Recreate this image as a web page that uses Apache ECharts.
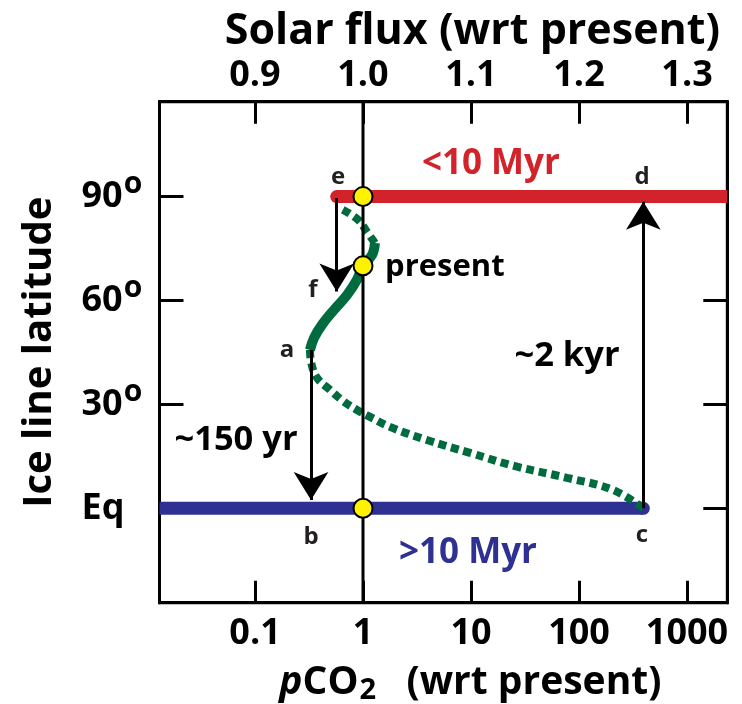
<!DOCTYPE html>
<html>
<head>
<meta charset="utf-8">
<script src="https://cdn.jsdelivr.net/npm/echarts@6/dist/echarts.min.js"></script>
<style>
  html, body { margin: 0; padding: 0; background: #fff; }
  #chart { width: 742px; height: 704px; }
</style>
</head>
<body>
<div id="chart"></div>
<script>
// ---- Snowball-Earth hysteresis: ice line latitude vs pCO2 / solar flux ----

// Axis ranges (pCO2 on a log scale, solar flux linear on the top axis)
const pco2Range = [0.01305, 2361];
const fluxRange = [0.8116, 1.3373];
const latRange = [-27.26, 117.4];

// Tick label text
const latTickValues = [0, 30, 60, 90];
const latTickText = ['Eq', '30', '60', '90'];

// Stable ice-free / small-cap branch (red) and snowball branch (blue)
const iceFreeBranchPCO2 = [0.571, 2361];
const iceFreeBranchLat = [90, 90];
const snowballBranchPCO2 = [0.01305, 394];
const snowballBranchLat = [0, 0];

// Green ice-line curve: upper dashed piece, solid stable piece, lower dashed piece
const upperBranchPCO2 = [0.65, 0.90, 1.09, 1.29];
const upperBranchLat = [86.2, 83.3, 79.8, 76.6];
const stableBranchPCO2 = [1.29, 1.21, 1.0, 0.880, 0.711, 0.539, 0.417, 0.352, 0.323];
const stableBranchLat = [76.6, 73.1, 70.2, 66.0, 61.6, 57.3, 53.0, 49.2, 45.7];
const unstableBranchPCO2 = [0.323, 0.330, 0.375, 0.495, 0.653, 0.880, 1.21, 1.78, 3.91, 9.79, 26.7, 77.4, 206, 394];
const unstableBranchLat = [45.7, 42.3, 37.7, 34.2, 31.0, 28.4, 26.1, 23.5, 19.7, 16.0, 12.0, 8.8, 5.3, 0];

// Marked states on the present-day CO2 line
const markedPCO2 = [1, 1, 1];
const markedLat = [90, 70, 0];

// Transitions: e -> f, a -> b, c -> d
const transitionPCO2 = [0.571, 0.330, 394];
const transitionFromLat = [89.6, 45.7, 0];
const transitionToLat = [62.6, 2.4, 88.5];

// Point letters, anchored in data units
const letterText = ['e', 'd', 'f', 'a', 'b', 'c'];
const letterPCO2 = [0.587, 383, 0.344, 0.198, 0.330, 383];
const letterLat = [95.7, 95.7, 63.0, 45.7, -8.3, -7.8];

const FONT = '"Open Sans", "Noto Sans", sans-serif';
const RED = '#d2232a';
const BLUE = '#2e3192';
const GREEN = '#006b3f';
const INK = '#231f20';

const zip = (xs, ys) => xs.map((x, i) => [x, ys[i]]);

// A branch drawn with a butt cap, rounded only at one end by a dot of the line's width
function cappedBranch(xs, ys, roundIndex, color) {
  return zip(xs, ys).map((p, i) => i === roundIndex
    ? { value: p, symbol: 'circle', symbolSize: 13, itemStyle: { color: color, borderWidth: 0, opacity: 1 } }
    : { value: p, symbol: 'none' });
}

const chart = echarts.init(document.getElementById('chart'), null, { renderer: 'canvas' });

const axisLineStyle = { color: '#000', width: 3 };
const tickLabelStyle = { fontFamily: FONT, fontWeight: 'bold', fontSize: 36, color: '#000' };
const plainText = { textBorderWidth: 0, textBorderColor: 'transparent', textShadowBlur: 0, opacity: 1 };

const option = {
  animation: false,
  backgroundColor: '#fff',
  grid: {
    left: 159.5, right: 14.7, top: 101.7, bottom: 101.3,
    outerBoundsMode: 'none', containLabel: false,
    show: true, borderColor: '#000', borderWidth: 3, backgroundColor: 'transparent'
  },
  xAxis: [
    {
      type: 'log', logBase: 10, position: 'bottom',
      min: pco2Range[0], max: pco2Range[1],
      axisLine: { show: true, onZero: false, lineStyle: axisLineStyle },
      axisTick: { show: true, inside: true, length: 22, lineStyle: { color: '#000', width: 3 } },
      splitLine: { show: false }, minorTick: { show: false },
      axisLabel: Object.assign({
        margin: 13, showMinLabel: false, showMaxLabel: false,
        formatter: v => (v < 1 ? v.toFixed(1) : String(Math.round(v)))
      }, tickLabelStyle),
      name: '{i|p}{n|CO}{sub|2}{n|   (wrt present)}',
      nameLocation: 'middle', nameGap: 58,
      nameTextStyle: {
        padding: [0, 0, 0, 54],
        rich: {
          i: { fontFamily: FONT, fontWeight: 'bold', fontStyle: 'italic', fontSize: 39, color: '#000' },
          n: { fontFamily: FONT, fontWeight: 'bold', fontSize: 39, color: '#000' },
          sub: { fontFamily: FONT, fontWeight: 'bold', fontSize: 29, color: '#000', verticalAlign: 'bottom', padding: [16, 0, 0, 1] }
        }
      }
    },
    {
      type: 'value', position: 'top',
      min: fluxRange[0], max: fluxRange[1],
      axisLine: { show: true, onZero: false, lineStyle: axisLineStyle },
      axisTick: { show: true, inside: true, length: 22, lineStyle: { color: '#000', width: 3 } },
      splitLine: { show: false },
      axisLabel: Object.assign({
        margin: 8, showMinLabel: false, showMaxLabel: false,
        formatter: v => v.toFixed(1)
      }, tickLabelStyle),
      name: 'Solar flux (wrt present)',
      nameLocation: 'middle', nameGap: 47,
      nameTextStyle: { fontFamily: FONT, fontWeight: 'bold', fontSize: 43, color: '#000', padding: [0, 0, 0, 58] }
    }
  ],
  yAxis: [
    {
      type: 'value', position: 'left',
      min: latRange[0], max: latRange[1],
      axisLine: { show: true, onZero: false, lineStyle: axisLineStyle },
      axisTick: { show: true, inside: true, length: 24, lineStyle: { color: '#000', width: 3 } },
      splitLine: { show: false },
      axisLabel: {
        margin: 78, align: 'left', showMinLabel: false, showMaxLabel: false,
        formatter: v => {
          const i = latTickValues.indexOf(Math.round(v));
          if (i < 0) return '';
          return i === 0 ? '{n|' + latTickText[i] + '}' : '{n|' + latTickText[i] + '}{s|o}';
        },
        rich: {
          n: { fontFamily: FONT, fontWeight: 'bold', fontSize: 36, color: '#000' },
          s: { fontFamily: FONT, fontWeight: 'bold', fontSize: 30, color: '#000', padding: [0, 0, 24, 1] }
        }
      },
      name: 'Ice line latitude',
      nameLocation: 'middle', nameGap: 100, nameRotate: 90,
      nameTextStyle: { fontFamily: FONT, fontWeight: 'bold', fontSize: 40, color: '#000' }
    },
    {
      type: 'value', position: 'right',
      min: latRange[0], max: latRange[1],
      axisLine: { show: true, onZero: false, lineStyle: axisLineStyle },
      axisTick: { show: true, inside: true, length: 24, lineStyle: { color: '#000', width: 3 } },
      splitLine: { show: false },
      axisLabel: { show: false }
    }
  ],
  series: [
    {
      name: 'snowball', type: 'line', xAxisIndex: 0, yAxisIndex: 0, z: 2,
      data: cappedBranch(snowballBranchPCO2, snowballBranchLat, 1, BLUE),
      showSymbol: true, showAllSymbol: true,
      lineStyle: { color: BLUE, width: 13, cap: 'butt' }
    },
    {
      name: 'ice-free', type: 'line', xAxisIndex: 0, yAxisIndex: 0, z: 2,
      data: cappedBranch(iceFreeBranchPCO2, iceFreeBranchLat, 0, RED),
      showSymbol: true, showAllSymbol: true,
      lineStyle: { color: RED, width: 13, cap: 'butt' }
    },
    {
      name: 'upper', type: 'line', smooth: 0.4, symbol: 'none', z: 3,
      data: zip(upperBranchPCO2, upperBranchLat),
      lineStyle: { color: GREEN, width: 8, type: [8, 5], cap: 'butt' }
    },
    {
      name: 'stable', type: 'line', smooth: 0.4, symbol: 'none', z: 3,
      data: zip(stableBranchPCO2, stableBranchLat),
      lineStyle: { color: GREEN, width: 10, cap: 'butt' }
    },
    {
      name: 'unstable', type: 'line', smooth: 0.4, symbol: 'none', z: 3,
      data: zip(unstableBranchPCO2, unstableBranchLat),
      lineStyle: { color: GREEN, width: 8, type: [8, 5], cap: 'butt' }
    },
    {
      name: 'present CO2', type: 'line', symbol: 'none', z: 4,
      data: [[1, latRange[0]], [1, latRange[1]]],
      lineStyle: { color: '#000', width: 3 }
    },
    {
      name: 'transitions', type: 'line', data: [], z: 5,
      markLine: {
        silent: true, symbol: ['none', 'arrow'], symbolSize: [26, 28],
        label: { show: false },
        lineStyle: { color: '#000', width: 3, type: 'solid' },
        data: transitionPCO2.map((x, i) => [
          { coord: [x, transitionFromLat[i]] },
          { coord: [x, transitionToLat[i]] }
        ])
      }
    },
    {
      name: 'states', type: 'scatter', z: 6,
      data: zip(markedPCO2, markedLat), symbol: 'circle', symbolSize: 19,
      itemStyle: { color: '#fff200', borderColor: '#000', borderWidth: 2, opacity: 1 }
    },
    {
      name: 'letters', type: 'scatter', z: 7, symbolSize: 0, silent: true,
      itemStyle: { opacity: 1 },
      data: letterText.map((t, i) => ({ value: [letterPCO2[i], letterLat[i]], name: t })),
      label: Object.assign({
        show: true, position: 'inside', formatter: p => p.name,
        fontFamily: FONT, fontWeight: 'bold', fontSize: 24, color: INK
      }, plainText)
    },
    {
      name: 'notes', type: 'scatter', z: 7, symbolSize: 0, silent: true,
      itemStyle: { opacity: 1 },
      data: [
        { value: [1.6, 69.7], label: { formatter: 'present', align: 'left', color: '#000', fontSize: 31 } },
        { value: [15.3, 99.4], label: { formatter: '<10 Myr', color: RED, fontSize: 35 } },
        { value: [9.38, -12.9], label: { formatter: '>10 Myr', color: BLUE, fontSize: 35 } },
        { value: [77.4, 44.0], label: { formatter: '~2 kyr', color: '#000', fontSize: 34.5 } },
        { value: [0.0667, 19.8], label: { formatter: '~150 yr', color: '#000', fontSize: 34.5 } }
      ],
      label: Object.assign({
        show: true, position: 'inside',
        fontFamily: FONT, fontWeight: 'bold'
      }, plainText)
    }
  ]
};

chart.setOption(option);
</script>
</body>
</html>
